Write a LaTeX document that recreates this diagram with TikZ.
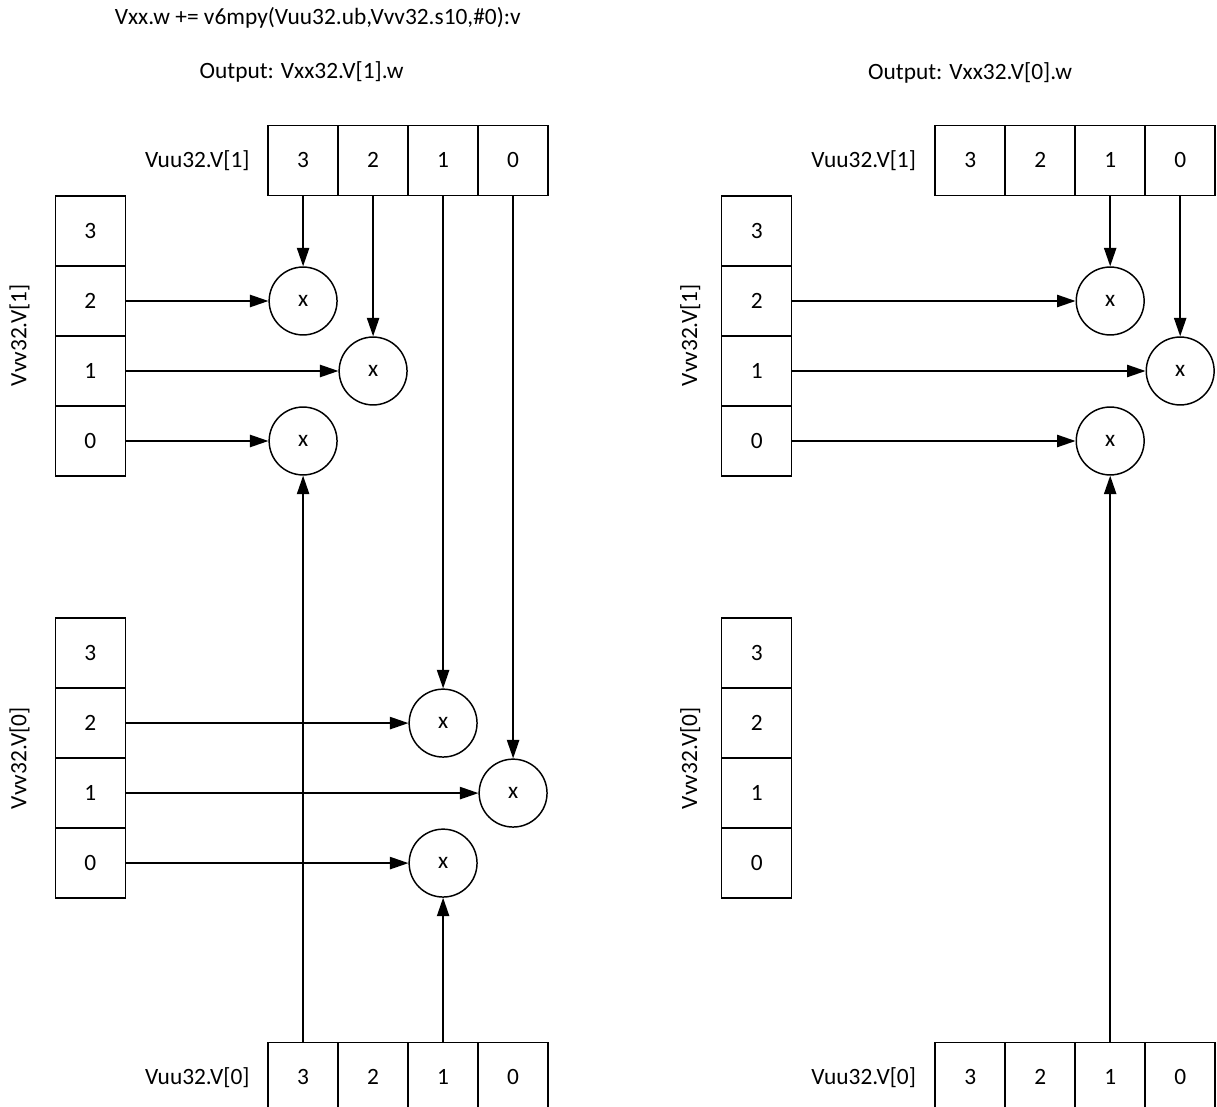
\documentclass[tikz,border=0pt]{standalone}
\usepackage{fontspec}
\setmainfont{Carlito}
\usetikzlibrary{arrows.meta}

\tikzset{
  cell/.style={draw,line width=0.6pt,minimum width=1cm,minimum height=1cm,inner sep=0pt},
  mul/.style={draw,circle,line width=0.6pt,minimum size=0.97cm,inner sep=0pt},
  feed/.style={line width=0.6pt,-{Triangle[length=7.5pt,width=5pt]}}
}

\begin{document}
\begin{tikzpicture}[every node/.style={font=\fontsize{9.5}{11}\selectfont}]
  \useasboundingbox (0,0) rectangle (17.386,-15.814);

  \node (title) at (4.54,-0.26) {Vxx.w += v6mpy(Vuu32.ub,Vvv32.s10,\#0):v};
  \node (outL) at (4.31,-1.03) {Output: Vxx32.V[1].w};
  \node (outR) at (13.86,-1.04) {Output: Vxx32.V[0].w};

  % left half: Vuu32.V[1] on top
  \node[anchor=east] (hiLlab) at (3.69,-2.29) {Vuu32.V[1]};
  \node[cell] (hiL3) at (4.33,-2.29) {3};
  \node[cell] (hiL2) at (5.33,-2.29) {2};
  \node[cell] (hiL1) at (6.33,-2.29) {1};
  \node[cell] (hiL0) at (7.33,-2.29) {0};

  % left half: Vuu32.V[0] at the bottom
  \node[anchor=east] (loLlab) at (3.69,-15.39) {Vuu32.V[0]};
  \node[cell] (loL3) at (4.33,-15.39) {3};
  \node[cell] (loL2) at (5.33,-15.39) {2};
  \node[cell] (loL1) at (6.33,-15.39) {1};
  \node[cell] (loL0) at (7.33,-15.39) {0};

  % left half: Vvv32.V[1] and Vvv32.V[0]
  \node[rotate=90] (vhLlab) at (0.28,-4.79) {Vvv32.V[1]};
  \node[cell] (vhL3) at (1.29,-3.3) {3};
  \node[cell] (vhL2) at (1.29,-4.3) {2};
  \node[cell] (vhL1) at (1.29,-5.3) {1};
  \node[cell] (vhL0) at (1.29,-6.3) {0};

  \node[rotate=90] (vlLlab) at (0.28,-10.83) {Vvv32.V[0]};
  \node[cell] (vlL3) at (1.29,-9.33) {3};
  \node[cell] (vlL2) at (1.29,-10.33) {2};
  \node[cell] (vlL1) at (1.29,-11.33) {1};
  \node[cell] (vlL0) at (1.29,-12.33) {0};

  % left half: products
  \node[mul] (mulLa) at (4.33,-4.3) {x};
  \node[mul] (mulLb) at (5.33,-5.3) {x};
  \node[mul] (mulLc) at (4.33,-6.3) {x};
  \node[mul] (mulLd) at (6.33,-10.33) {x};
  \node[mul] (mulLe) at (7.33,-11.33) {x};
  \node[mul] (mulLf) at (6.33,-12.33) {x};

  \draw[feed] (hiL3.south) -- (mulLa.north);
  \draw[feed] (hiL2.south) -- (mulLb.north);
  \draw[feed] (hiL1.south) -- (mulLd.north);
  \draw[feed] (hiL0.south) -- (mulLe.north);
  \draw[feed] (vhL2.east) -- (mulLa.west);
  \draw[feed] (vhL1.east) -- (mulLb.west);
  \draw[feed] (vhL0.east) -- (mulLc.west);
  \draw[feed] (vlL2.east) -- (mulLd.west);
  \draw[feed] (vlL1.east) -- (mulLe.west);
  \draw[feed] (vlL0.east) -- (mulLf.west);
  \draw[feed] (loL3.north) -- (mulLc.south);
  \draw[feed] (loL1.north) -- (mulLf.south);

  % right half: Vuu32.V[1] on top
  \node[anchor=east] (hiRlab) at (13.21,-2.29) {Vuu32.V[1]};
  \node[cell] (hiR3) at (13.86,-2.29) {3};
  \node[cell] (hiR2) at (14.86,-2.29) {2};
  \node[cell] (hiR1) at (15.86,-2.29) {1};
  \node[cell] (hiR0) at (16.86,-2.29) {0};

  % right half: Vuu32.V[0] at the bottom
  \node[anchor=east] (loRlab) at (13.21,-15.39) {Vuu32.V[0]};
  \node[cell] (loR3) at (13.86,-15.39) {3};
  \node[cell] (loR2) at (14.86,-15.39) {2};
  \node[cell] (loR1) at (15.86,-15.39) {1};
  \node[cell] (loR0) at (16.86,-15.39) {0};

  % right half: Vvv32.V[1] and Vvv32.V[0]
  \node[rotate=90] (vhRlab) at (9.86,-4.79) {Vvv32.V[1]};
  \node[cell] (vhR3) at (10.81,-3.3) {3};
  \node[cell] (vhR2) at (10.81,-4.3) {2};
  \node[cell] (vhR1) at (10.81,-5.3) {1};
  \node[cell] (vhR0) at (10.81,-6.3) {0};

  \node[rotate=90] (vlRlab) at (9.86,-10.83) {Vvv32.V[0]};
  \node[cell] (vlR3) at (10.81,-9.33) {3};
  \node[cell] (vlR2) at (10.81,-10.33) {2};
  \node[cell] (vlR1) at (10.81,-11.33) {1};
  \node[cell] (vlR0) at (10.81,-12.33) {0};

  % right half: products
  \node[mul] (mulRa) at (15.86,-4.3) {x};
  \node[mul] (mulRb) at (16.86,-5.3) {x};
  \node[mul] (mulRc) at (15.86,-6.3) {x};

  \draw[feed] (hiR1.south) -- (mulRa.north);
  \draw[feed] (hiR0.south) -- (mulRb.north);
  \draw[feed] (vhR2.east) -- (mulRa.west);
  \draw[feed] (vhR1.east) -- (mulRb.west);
  \draw[feed] (vhR0.east) -- (mulRc.west);
  \draw[feed] (loR1.north) -- (mulRc.south);
\end{tikzpicture}
\end{document}
